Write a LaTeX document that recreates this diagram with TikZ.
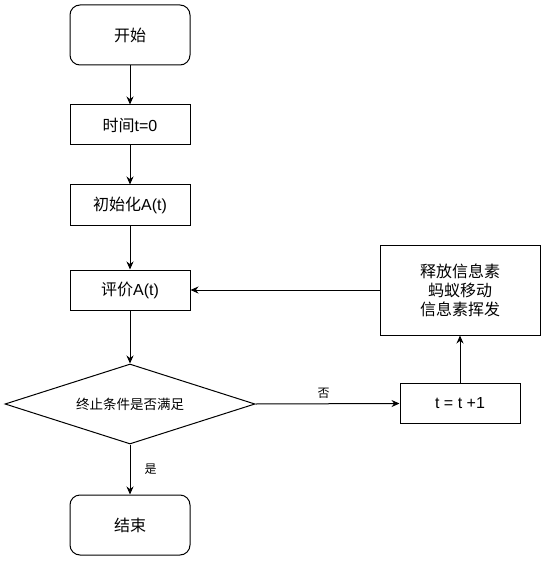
\documentclass[tikz,border=0pt]{standalone}
\usepackage{fontspec}
\setmainfont{Liberation Sans}
\newfontfamily\cjk{Noto Sans CJK SC}
\usetikzlibrary{shapes.geometric,arrows.meta}
\tikzset{
  base/.style={draw=black, line width=1pt, inner sep=0pt, align=center, font=\fontsize{16}{19}\selectfont},
  term/.style={base, rounded corners=10pt, minimum width=120pt, minimum height=60pt},
  proc/.style={base, minimum width=120pt, minimum height=40pt},
  bigproc/.style={base, minimum width=160pt, minimum height=90pt},
  decis/.style={base, diamond, aspect=3.125, minimum width=250pt, minimum height=80pt, font=\fontsize{13.5}{16}\selectfont},
  conn/.style={draw=black, line width=1pt, -{Stealth[length=8pt,width=7pt]}},
  lbl/.style={inner sep=0pt, font=\fontsize{12}{14}\selectfont}
}
\begin{document}
\begin{tikzpicture}[x=1pt,y=-1pt]
\useasboundingbox (0,0) rectangle (546,561);
\node[term] (start) at (130,35) {\cjk 开始};
\node[proc] (t0) at (130,125) {{\cjk 时间}t=0};
\node[proc] (init) at (130,205) {{\cjk 初始化}A(t)};
\node[proc] (eval) at (130,290) {{\cjk 评价}A(t)};
\node[decis] (dec) at (130,404) {\cjk 终止条件是否满足};
\node[term] (end) at (130,525) {\cjk 结束};
\node[proc] (tinc) at (460,403.5) {t = t +1};
\node[bigproc] (big) at (460,290) {\cjk 释放信息素\\ \cjk 蚂蚁移动\\ \cjk 信息素挥发};
\draw[conn] (start) -- (t0);
\draw[conn] (t0) -- (init);
\draw[conn] (init) -- (eval);
\draw[conn] (eval) -- (dec);
\draw[conn] (dec) -- node[lbl, midway, right=14pt] {\cjk 是} (end);
\draw[conn] (dec.east) -- node[lbl, midway, above=5pt, xshift=-4pt] {\cjk 否} (tinc.west);
\draw[conn] (tinc) -- (big);
\draw[conn] (big.west) -- (eval.east);
\end{tikzpicture}
\end{document}
